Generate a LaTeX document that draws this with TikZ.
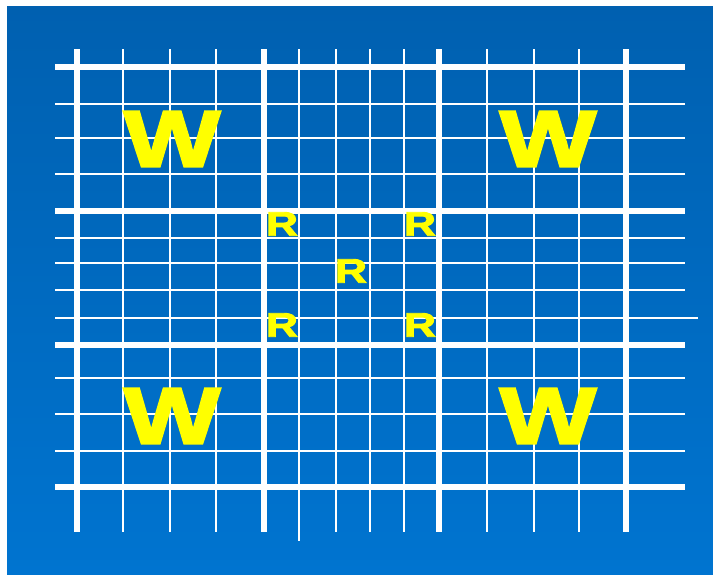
\documentclass[tikz,border=0pt]{standalone}
\usepackage{fontspec}
\setmainfont{Liberation Sans}
\newfontfamily\heavyfont[FakeBold=2.5]{Liberation Sans Bold}
\definecolor{bgtop}{RGB}{0,96,176}
\definecolor{bgbot}{RGB}{0,116,208}
\definecolor{letter}{RGB}{255,255,0}
\tikzset{
  thickline/.style={white,line width=6pt},
  thinline/.style={white,line width=2.8pt},
  bigW/.style={text=letter,font=\fontsize{80}{80}\heavyfont,inner sep=0pt},
  smallR/.style={text=letter,font=\fontsize{34}{34}\heavyfont,inner sep=0pt},
}
\begin{document}
\begin{tikzpicture}[x=1pt,y=-1pt]
\useasboundingbox (0,0) rectangle (713,574);
\fill[white] (0,0) rectangle (713,574);
\shade[top color=bgtop,bottom color=bgbot] (7,6) rectangle (713,574);
% thin horizontal lines
\foreach \y in {104,138,174,238,263,290,378,414,451}
  \draw[thinline] (55,\y) -- (685,\y);
\draw[thinline] (55,318) -- (698,318);
% thin vertical lines
\foreach \x in {123,170,216,336,370,404,487,534,579}
  \draw[thinline] (\x,49) -- (\x,532);
\draw[thinline] (299,49) -- (299,541);
% thick lines
\foreach \y in {67,211,345,487}
  \draw[thickline] (55,\y) -- (685,\y);
\foreach \x in {77,264,439,626}
  \draw[thickline] (\x,49) -- (\x,532);
% letters
\node[bigW] (w1) at (172,139) {\scalebox{1.28}[1]{W}};
\node[bigW] (w2) at (548,139) {\scalebox{1.28}[1]{W}};
\node[bigW] (w3) at (172,416) {\scalebox{1.28}[1]{W}};
\node[bigW] (w4) at (548,416) {\scalebox{1.28}[1]{W}};
\node[smallR] (r1) at (282,224) {\scalebox{1.3}[1]{R}};
\node[smallR] (r2) at (420,224) {\scalebox{1.3}[1]{R}};
\node[smallR] (r3) at (351,271) {\scalebox{1.3}[1]{R}};
\node[smallR] (r4) at (282,325) {\scalebox{1.3}[1]{R}};
\node[smallR] (r5) at (420,325) {\scalebox{1.3}[1]{R}};
\end{tikzpicture}
\end{document}
